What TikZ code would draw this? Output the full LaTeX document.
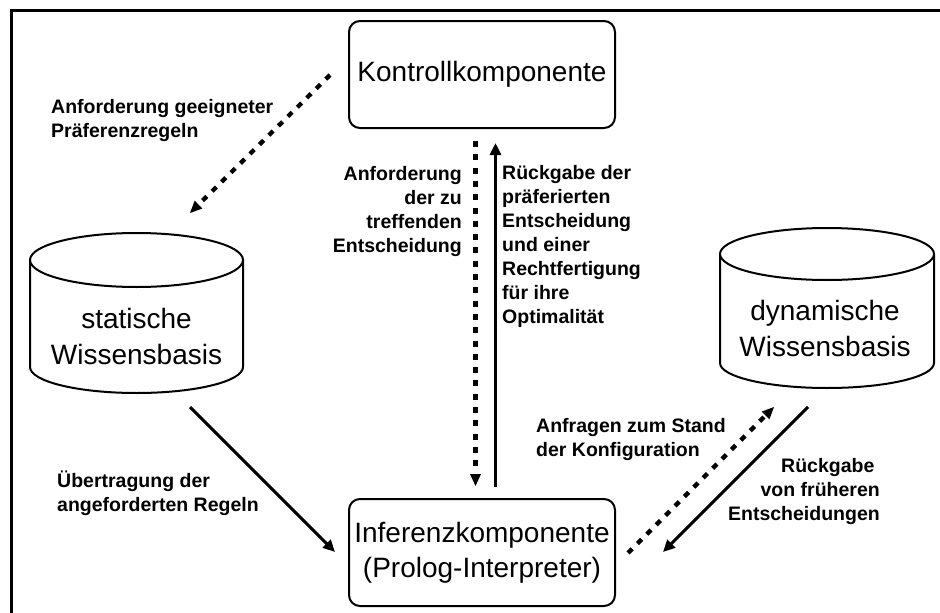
\documentclass[tikz,border=0pt]{standalone}
\usepackage{fontspec}
\setmainfont{Liberation Sans}
\usetikzlibrary{arrows.meta}

\tikzset{
  comp/.style={draw, line width=2pt, rounded corners=11pt, minimum width=266pt,
    minimum height=107pt, align=center, inner sep=0pt,
    font=\fontsize{28}{35}\selectfont},
  dbtext/.style={align=center, inner sep=0pt, font=\fontsize{28}{36}\selectfont},
  dbline/.style={line width=2pt},
  lbl/.style={inner sep=0pt, font=\fontsize{19.5}{24}\selectfont\bfseries},
  tip/.style={-{Triangle[length=12pt,width=11pt]}},
  solidarrow/.style={tip, line width=3pt},
  dotarrow/.style={-{Triangle[length=12pt,width=11pt,line width=0pt]}, line width=4.3pt, dash pattern=on 6pt off 7.3pt},
  frameline/.style={line width=3pt}
}

\begin{document}
\begin{tikzpicture}[x=1pt,y=-1pt]
\useasboundingbox (0,0) rectangle (940,613);
\fill[white] (0,0) rectangle (940,613);

% outer frame (only top and left edges fall inside the page)
\draw[frameline] (11,613) -- (11,10) -- (940,10);

% components
\node[comp] (kontroll) at (482,74.5) {Kontrollkomponente};
\node[comp] (inferenz) at (482,552.5) {Inferenzkomponente\\(Prolog-Interpreter)};

% static knowledge base (cylinder)
\draw[dbline] (30,260) -- (30,367) arc[start angle=180, end angle=0, x radius=106.5, y radius=26]
  -- (243,260);
\draw[dbline, fill=white] (136.5,260) ellipse[x radius=106.5, y radius=27];
\node[dbtext] (statisch) at (136.5,336) {statische\\Wissensbasis};

% dynamic knowledge base (cylinder)
\draw[dbline] (720,254) -- (720,363) arc[start angle=180, end angle=0, x radius=107, y radius=25]
  -- (934,254);
\draw[dbline, fill=white] (827,254) ellipse[x radius=107, y radius=26];
\node[dbtext] (dynamisch) at (825,328) {dynamische\\Wissensbasis};

% connector end points
\coordinate (kA) at (330,75);
\coordinate (sTop) at (190,213);
\coordinate (kDownS) at (475.5,141);
\coordinate (iDownE) at (475.5,486);
\coordinate (iUpS) at (495.5,487);
\coordinate (kUpE) at (495.5,143);
\coordinate (sBot) at (190,407);
\coordinate (iLeft) at (335,552);
\coordinate (iRightS) at (628,553);
\coordinate (dBotL) at (774,407);
\coordinate (dBotR) at (808,407);
\coordinate (iRightE) at (663,552);

% connectors
\draw[dotarrow] (kA) -- (sTop);
\draw[dotarrow] (kDownS) -- (iDownE);
\draw[solidarrow] (iUpS) -- (kUpE);
\draw[solidarrow] (sBot) -- (iLeft);
\draw[dotarrow] (iRightS) -- (dBotL);
\draw[solidarrow] (dBotR) -- (iRightE);

% connector labels
\node[lbl, align=left, anchor=west] (l1) at (51,120) {Anforderung geeigneter\\Präferenzregeln};
\node[lbl, align=right, anchor=east] (l2) at (462,211) {Anforderung\\der zu\\treffenden\\Entscheidung};
\node[lbl, align=left, anchor=west] (l3) at (502,246.5) {Rückgabe der\\präferierten\\Entscheidung\\und einer\\Rechtfertigung\\für ihre\\Optimalität};
\node[lbl, align=left, anchor=west] (l4) at (57,493) {Übertragung der\\angeforderten Regeln};
\node[lbl, align=left, anchor=west] (l5) at (536,439.5) {Anfragen zum Stand\\der Konfiguration};
\node[lbl, align=right, anchor=east] (l6) at (880,491) {Rückgabe\hspace*{0.278em}\\von früheren\\Entscheidungen};
\end{tikzpicture}
\end{document}
